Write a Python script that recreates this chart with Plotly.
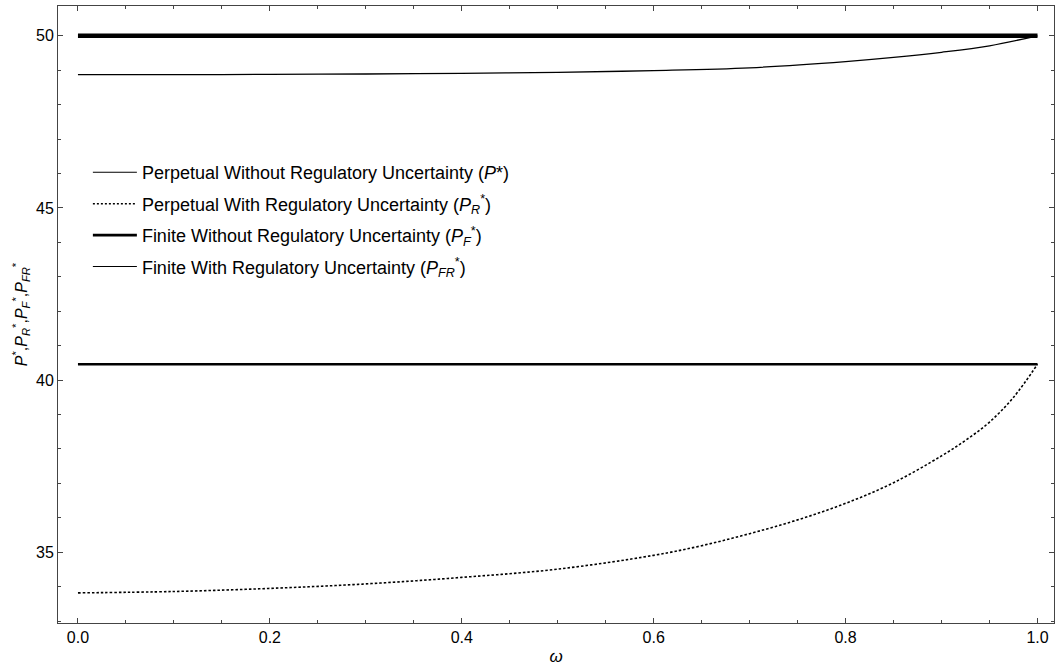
import plotly.graph_objects as go

# ---------------- data ----------------
omega_flat = [0.0, 1.0]
p_star = [40.46, 40.46]          # Perpetual without regulatory uncertainty
p_f = [50.0, 50.0]               # Finite without regulatory uncertainty

omega_r = [0.0, 0.1, 0.2, 0.3, 0.4, 0.5, 0.6, 0.65, 0.7, 0.75, 0.8, 0.85,
           0.9, 0.925, 0.95, 0.975, 1.0]
p_r = [33.82, 33.86, 33.95, 34.08, 34.27, 34.51, 34.91, 35.19, 35.54, 35.94,
       36.42, 37.02, 37.80, 38.25, 38.78, 39.50, 40.46]

omega_fr = [0.0, 0.1, 0.2, 0.3, 0.4, 0.5, 0.6, 0.7, 0.8, 0.85, 0.9, 0.95, 1.0]
p_fr = [48.87, 48.87, 48.88, 48.89, 48.91, 48.94, 48.99, 49.07, 49.25, 49.37,
        49.52, 49.71, 50.0]

x_ticks = [0.0, 0.2, 0.4, 0.6, 0.8, 1.0]
y_ticks = [35, 40, 45, 50]

names = [
    "Perpetual Without Regulatory Uncertainty (<i>P</i>*)",
    "Perpetual With Regulatory Uncertainty (<i>P</i><sub><i>R</i></sub><sup>*</sup>)",
    "Finite Without Regulatory Uncertainty (<i>P</i><sub><i>F</i></sub><sup>*</sup>)",
    "Finite With Regulatory Uncertainty (<i>P</i><sub><i>FR</i></sub><sup>*</sup>)",
]

FONT = "Liberation Sans, Arial, sans-serif"
AXC = "#444444"

fig = go.Figure()

# plotted curves
fig.add_trace(go.Scatter(x=omega_flat, y=p_star, mode="lines", showlegend=False,
                         line=dict(color="black", width=2.5)))
fig.add_trace(go.Scatter(x=omega_r, y=p_r, mode="lines", showlegend=False,
                         line=dict(color="black", width=1.6, dash="2.5px,2px", shape="spline")))
fig.add_trace(go.Scatter(x=omega_flat, y=p_f, mode="lines", showlegend=False,
                         line=dict(color="black", width=4.5)))
fig.add_trace(go.Scatter(x=omega_fr, y=p_fr, mode="lines", showlegend=False,
                         line=dict(color="black", width=1.3, shape="spline")))

# legend entries
leg_styles = [dict(width=1.1), dict(width=1.4, dash="2px,2px"), dict(width=2.6), dict(width=1.1)]
for i, (nm, st) in enumerate(zip(names, leg_styles)):
    fig.add_trace(go.Scatter(x=[None], y=[None], mode="lines", name=nm,
                             legendgroup=f"g{i}",
                             line=dict(color="black", **st)))

fig.update_layout(
    width=1058, height=672,
    margin=dict(l=58, r=4, t=6, b=49),
    paper_bgcolor="white", plot_bgcolor="white",
    font=dict(family=FONT, size=16, color="black"),
    legend=dict(x=0.030, y=0.76, xanchor="left", yanchor="top",
                bgcolor="rgba(0,0,0,0)", font=dict(size=18, family=FONT),
                itemwidth=44, tracegroupgap=5),
    xaxis=dict(range=[-0.0208, 1.0172], tickvals=x_ticks, tickformat=".1f",
               ticks="inside", ticklen=5, tickcolor=AXC, mirror="allticks",
               showline=True, linecolor=AXC, linewidth=1, showgrid=False, zeroline=False,
               minor=dict(dtick=0.05, ticks="inside", ticklen=3, tickcolor=AXC, showgrid=False),
               title=dict(text="<i>ω</i>", standoff=4, font=dict(size=17))),
    yaxis=dict(range=[32.945, 50.865], tickvals=y_ticks,
               ticks="inside", ticklen=5, tickcolor=AXC, mirror="allticks",
               showline=True, linecolor=AXC, linewidth=1, showgrid=False, zeroline=False,
               minor=dict(dtick=1, ticks="inside", ticklen=3, tickcolor=AXC, showgrid=False),
               title=dict(text="<i>P</i><sup>*</sup>,<i>P</i><sub><i>R</i></sub><sup>*</sup>,"
                               "<i>P</i><sub><i>F</i></sub><sup>*</sup>,<i>P</i><sub><i>FR</i></sub><sup>*</sup>",
                          standoff=4, font=dict(size=16))),
)

fig.write_html("out.html")
